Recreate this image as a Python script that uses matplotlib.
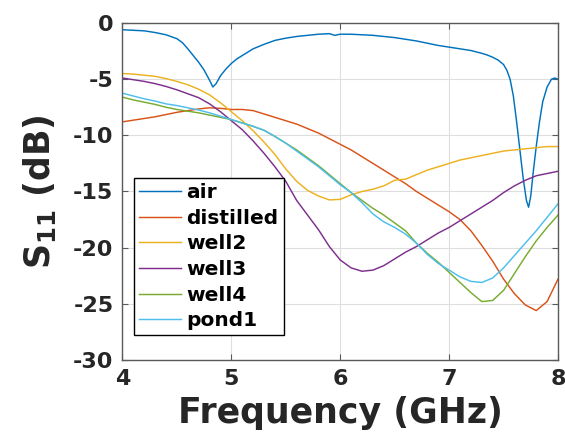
import matplotlib
matplotlib.use("Agg")
import matplotlib.pyplot as plt
from matplotlib.font_manager import FontProperties

# Reflection coefficient S11 (dB) of the sensor for different media
freq = [4.0, 4.1, 4.2, 4.3, 4.4, 4.5, 4.6, 4.7, 4.8, 4.9,
        5.0, 5.1, 5.2, 5.3, 5.4, 5.5, 5.6, 5.7, 5.8, 5.9,
        6.0, 6.1, 6.2, 6.3, 6.4, 6.5, 6.6, 6.7, 6.8, 6.9,
        7.0, 7.1, 7.2, 7.3, 7.4, 7.5, 7.6, 7.7, 7.8, 7.9, 8.0]

air_freq = [4.0, 4.1, 4.2, 4.3, 4.4, 4.5, 4.55, 4.6, 4.65, 4.7, 4.75, 4.8, 4.83,
            4.86, 4.9, 4.95, 5.0, 5.05, 5.1, 5.2, 5.3, 5.4, 5.5, 5.6, 5.7, 5.8,
            5.9, 5.95, 6.0, 6.1, 6.2, 6.3, 6.4, 6.5, 6.6, 6.7, 6.8, 6.9, 7.0,
            7.1, 7.2, 7.3, 7.35, 7.4, 7.45, 7.5, 7.53, 7.56, 7.59, 7.62, 7.65,
            7.68, 7.71, 7.73, 7.75, 7.77, 7.8, 7.83, 7.86, 7.9, 7.94, 7.97, 8.0]
air = [-0.6, -0.65, -0.7, -0.85, -1.05, -1.4, -1.75, -2.3, -2.9, -3.5, -4.2, -5.1, -5.7,
       -5.4, -4.7, -4.1, -3.6, -3.2, -2.9, -2.3, -1.9, -1.55, -1.35, -1.2, -1.1, -1.0,
       -0.95, -1.1, -1.0, -1.0, -1.05, -1.1, -1.2, -1.3, -1.45, -1.6, -1.8, -2.0, -2.15,
       -2.3, -2.45, -2.7, -2.85, -3.05, -3.3, -3.7, -4.2, -5.0, -6.5, -8.8, -11.3,
       -13.8, -15.8, -16.4, -15.4, -13.5, -11.0, -8.8, -7.0, -5.7, -5.0, -4.9, -5.0]

distilled = [-8.8, -8.65, -8.5, -8.35, -8.15, -7.95, -7.8, -7.65, -7.55, -7.6,
             -7.7, -7.7, -7.8, -8.1, -8.4, -8.7, -9.0, -9.4, -9.8, -10.3,
             -10.8, -11.3, -11.9, -12.5, -13.1, -13.7, -14.3, -15.0, -15.6, -16.2,
             -16.8, -17.5, -18.5, -19.8, -21.2, -22.8, -24.1, -25.1, -25.6, -24.8, -22.8]

well2 = [-4.5, -4.55, -4.65, -4.75, -4.95, -5.2, -5.5, -5.9, -6.4, -7.1,
         -7.9, -8.7, -9.6, -10.6, -11.7, -13.0, -14.1, -14.9, -15.4, -15.75,
         -15.7, -15.3, -15.0, -14.8, -14.5, -14.0, -13.9, -13.5, -13.1, -12.8,
         -12.5, -12.2, -12.0, -11.8, -11.6, -11.4, -11.3, -11.2, -11.1, -11.0, -11.0]

well3 = [-4.9, -5.05, -5.2, -5.4, -5.65, -5.95, -6.3, -6.65, -7.2, -7.9,
         -8.7, -9.5, -10.5, -11.6, -12.8, -14.1, -15.8, -17.1, -18.4, -19.9,
         -21.1, -21.8, -22.1, -22.0, -21.6, -21.0, -20.4, -19.9, -19.3, -18.7,
         -18.2, -17.6, -17.0, -16.4, -15.8, -15.1, -14.5, -14.0, -13.6, -13.4, -13.2]

well4 = [-6.6, -6.85, -7.05, -7.25, -7.5, -7.7, -7.85, -8.0, -8.2, -8.4,
         -8.6, -8.9, -9.2, -9.55, -10.1, -10.7, -11.3, -12.0, -12.7, -13.5,
         -14.3, -15.1, -15.8, -16.5, -17.1, -17.8, -18.5, -19.6, -20.5, -21.3,
         -22.2, -23.1, -24.0, -24.8, -24.7, -23.8, -22.3, -20.8, -19.4, -18.2, -17.1]

pond1 = [-6.25, -6.5, -6.75, -6.95, -7.2, -7.35, -7.55, -7.75, -8.0, -8.3,
         -8.6, -8.9, -9.2, -9.55, -10.1, -10.7, -11.4, -12.1, -12.8, -13.6,
         -14.4, -15.1, -16.0, -17.0, -17.7, -18.2, -18.8, -19.6, -20.6, -21.4,
         -22.0, -22.6, -23.0, -23.1, -22.7, -21.8, -20.7, -19.6, -18.5, -17.3, -16.1]

labels = ["air", "distilled", "well2", "well3", "well4", "pond1"]
colors = ["#0072BD", "#D95319", "#EDB120", "#7E2F8E", "#77AC30", "#4DBEEE"]

x_ticks = [4, 5, 6, 7, 8]
y_ticks = [-30, -25, -20, -15, -10, -5, 0]

plt.rcParams["mathtext.fontset"] = "dejavusans"
plt.rcParams["font.family"] = ["DejaVu Sans"]

fig = plt.figure(figsize=(5.65, 4.37), dpi=100)
ax = fig.add_axes([0.2168, 0.1762, 0.7708, 0.7712])

series = [(air_freq, air)] + [(freq, s) for s in (distilled, well2, well3, well4, pond1)]
for (fx, fy), lab, col in zip(series, labels, colors):
    ax.plot(fx, fy, color=col, lw=1.05, label=lab)

ax.set_xlim(4, 8)
ax.set_ylim(-30, 0)
ax.set_xticks(x_ticks)
ax.set_yticks(y_ticks)
ax.set_xticklabels([str(v) for v in x_ticks])
ax.set_yticklabels([str(v) for v in y_ticks])

ax.grid(True, color="#dedede", lw=0.8)
ax.set_axisbelow(True)
for sp in ax.spines.values():
    sp.set_color("#5a5a5a")
    sp.set_linewidth(1.0)
ax.tick_params(direction="in", length=4, width=0.8, color="#5a5a5a",
               top=True, right=True, labelsize=16, labelcolor="#262626", pad=6.5)
for t in ax.get_xticklabels() + ax.get_yticklabels():
    t.set_fontweight("bold")

ax.set_xlabel("Frequency (GHz)", fontsize=25, fontweight="bold", color="#262626", labelpad=5)
ax.set_ylabel(r"$\mathbf{S_{11}}$ (dB)", fontsize=25, fontweight="bold", color="#262626", labelpad=11)

leg = ax.legend(loc="upper left", bbox_to_anchor=(0.0264, 0.540), borderaxespad=0,
                prop=FontProperties(family="DejaVu Sans", weight="bold", size=14.5),
                fancybox=False, framealpha=1, edgecolor="black", borderpad=0.25,
                labelspacing=0.33, handlelength=2.1, handletextpad=0.25)
leg.get_frame().set_linewidth(1.0)

fig.savefig("out.png", dpi=100)
